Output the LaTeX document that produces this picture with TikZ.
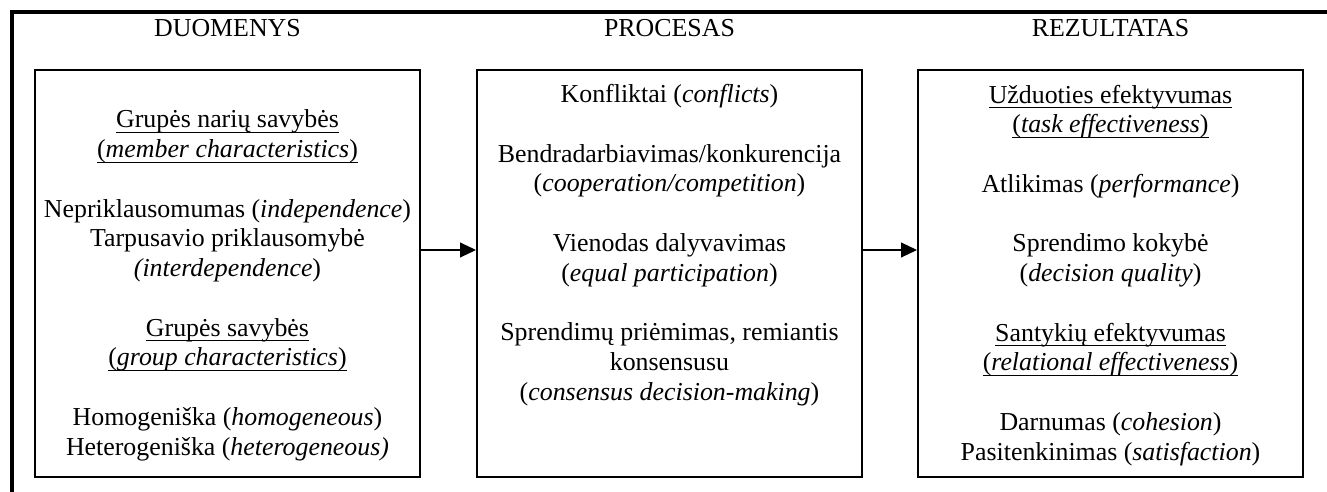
\documentclass[tikz,border=0pt]{standalone}
\usepackage{fontspec}
\setmainfont{Liberation Serif}
\usetikzlibrary{arrows.meta}
\newcommand\ulx[1]{\underline{\smash{#1}\rule[-2pt]{0pt}{0pt}}}
\begin{document}
\begin{tikzpicture}[x=0.75pt,y=-0.75pt,
  box/.style={draw, line width=1.4pt, minimum width=288.75pt, minimum height=305.25pt, inner sep=0pt},
  txt/.style={font=\fontsize{19.4}{22.3}\selectfont, align=center, anchor=base, inner sep=0pt},
  arr/.style={line width=1.4pt, -{Triangle[length=12pt,width=11pt]}},
  frame/.style={line width=3pt}]
\useasboundingbox (0,0) rectangle (1327,492);
\draw[frame] (11.5,500) -- (11.5,12.5) -- (1335,12.5);
\node[box] (d) at (227.5,273.5) {};
\node[box] (p) at (669.5,273.5) {};
\node[box] (r) at (1110.5,273.5) {};
\node[txt] (h1) at (227.5,37) {DUOMENYS};
\node[txt] (h2) at (669.5,37) {PROCESAS};
\node[txt] (h3) at (1110.5,37) {REZULTATAS};
\node[txt] (dt) at (227.5,455) {\ulx{Grupės narių savybės}\\
\ulx{(\textit{member characteristics})}\\[22.3pt]
Nepriklausomumas (\textit{independence})\\
Tarpusavio priklausomybė\\
\textit{(interdependence})\\[22.3pt]
\ulx{Grupės savybės}\\
\ulx{(\textit{group characteristics})}\\[22.3pt]
Homogeniška (\textit{homogeneous})\\
Heterogeniška (\textit{heterogeneous)}};
\node[txt] (pt) at (669.5,400) {Konfliktai (\textit{conflicts})\\[22.3pt]
Bendradarbiavimas/konkurencija\\
(\textit{cooperation/competition})\\[22.3pt]
Vienodas dalyvavimas\\
(\textit{equal participation})\\[22.3pt]
Sprendimų priėmimas, remiantis\\
konsensusu\\
(\textit{consensus decision-making})};
\node[txt] (rt) at (1110.5,460) {\ulx{Užduoties efektyvumas}\\
\ulx{(\textit{task effectiveness})}\\[22.3pt]
Atlikimas (\textit{performance})\\[22.3pt]
Sprendimo kokybė\\
(\textit{decision quality})\\[22.3pt]
\ulx{Santykių efektyvumas}\\
\ulx{(\textit{relational effectiveness})}\\[22.3pt]
Darnumas (\textit{cohesion})\\
Pasitenkinimas (\textit{satisfaction})};
\draw[arr] (d.east |- 0,250) -- (p.west |- 0,250);
\draw[arr] (p.east |- 0,250) -- (r.west |- 0,250);
\end{tikzpicture}
\end{document}
